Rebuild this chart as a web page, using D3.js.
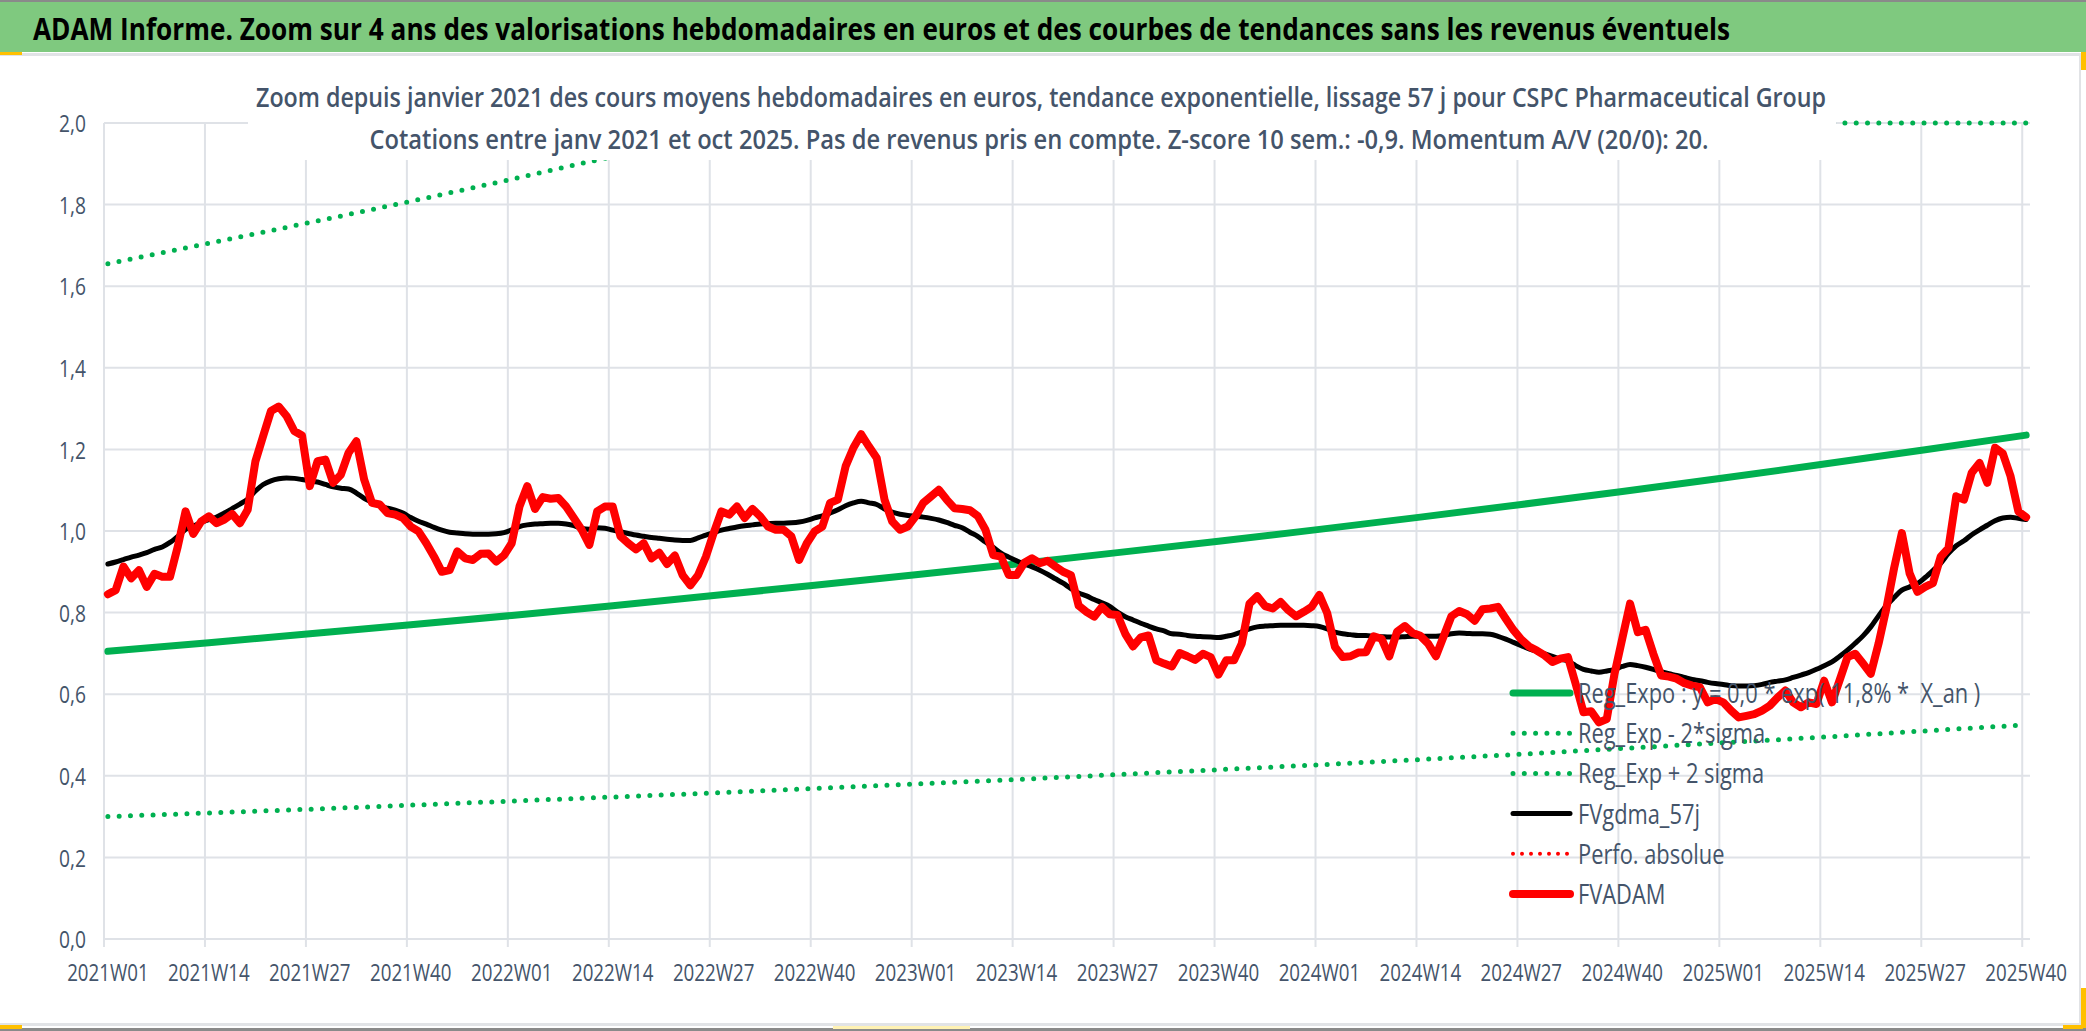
<!DOCTYPE html>
<meta charset="utf-8">
<style>
  body { margin: 0; background: #fff; }
  svg text { font-family: "Open Sans", "DejaVu Sans", sans-serif; }
</style>
<body>
<div id="chart"></div>
<script src="https://cdn.jsdelivr.net/npm/d3@7"></script>
<script>
// ---- data ----
const tickLabels = ["2021W01","2021W14","2021W27","2021W40","2022W01","2022W14","2022W27","2022W40",
  "2023W01","2023W14","2023W27","2023W40","2024W01","2024W14","2024W27","2024W40",
  "2025W01","2025W14","2025W27","2025W40"];
const yTicks = [0, 0.2, 0.4, 0.6, 0.8, 1.0, 1.2, 1.4, 1.6, 1.8, 2.0];

// weekly average price (FVADAM), 2021W01 .. 2025W40
const fvadam = [
  0.845,0.855,0.913,0.884,0.904,0.863,0.895,0.888,0.888,0.962,
  1.048,0.993,1.023,1.036,1.019,1.028,1.042,1.019,1.052,1.171,
  1.233,1.294,1.305,1.282,1.245,1.234,1.110,1.171,1.175,1.118,
  1.138,1.192,1.220,1.126,1.069,1.065,1.044,1.040,1.032,1.011,
  0.999,0.970,0.937,0.900,0.904,0.950,0.933,0.929,0.944,0.945,
  0.925,0.940,0.970,1.060,1.110,1.054,1.083,1.079,1.081,1.060,
  1.032,1.003,0.966,1.048,1.060,1.060,0.987,0.970,0.955,0.970,
  0.933,0.947,0.919,0.940,0.892,0.867,0.892,0.937,0.995,1.048,
  1.040,1.060,1.032,1.054,1.036,1.011,1.003,1.003,0.987,0.929,
  0.970,0.999,1.011,1.069,1.077,1.159,1.204,1.237,1.207,1.179,
  1.077,1.023,1.003,1.011,1.036,1.069,1.085,1.101,1.077,1.056,
  1.054,1.051,1.037,1.003,0.941,0.937,0.892,0.892,0.922,0.933,
  0.921,0.927,0.913,0.900,0.892,0.817,0.802,0.790,0.814,0.796,
  0.794,0.748,0.717,0.739,0.744,0.683,0.675,0.668,0.701,0.693,
  0.684,0.699,0.691,0.648,0.683,0.683,0.724,0.822,0.840,0.816,
  0.810,0.826,0.806,0.791,0.802,0.814,0.843,0.799,0.716,0.691,
  0.693,0.702,0.703,0.742,0.736,0.693,0.753,0.767,0.750,0.743,
  0.724,0.693,0.742,0.791,0.804,0.796,0.780,0.808,0.810,0.814,
  0.785,0.757,0.734,0.717,0.707,0.695,0.679,0.687,0.691,0.625,
  0.556,0.558,0.531,0.539,0.650,0.736,0.822,0.752,0.758,0.699,
  0.646,0.643,0.638,0.627,0.621,0.617,0.580,0.588,0.580,0.560,
  0.543,0.547,0.551,0.560,0.572,0.592,0.609,0.580,0.568,0.580,
  0.576,0.633,0.580,0.635,0.691,0.699,0.675,0.650,0.724,0.810,
  0.909,0.995,0.896,0.851,0.863,0.872,0.937,0.958,1.085,1.077,
  1.143,1.167,1.118,1.204,1.190,1.134,1.048,1.034
];

// 57 day moving average (FVgdma_57j)
const fvgdma = [
  0.919,0.924,0.930,0.936,0.941,0.947,0.955,0.961,0.972,0.987,
  1.004,1.012,1.021,1.028,1.034,1.044,1.055,1.066,1.078,1.098,
  1.114,1.123,1.128,1.130,1.129,1.126,1.123,1.120,1.114,1.108,
  1.105,1.103,1.093,1.080,1.071,1.062,1.056,1.051,1.044,1.033,
  1.024,1.017,1.009,1.002,0.997,0.995,0.993,0.992,0.992,0.992,
  0.993,0.996,1.003,1.011,1.015,1.017,1.018,1.019,1.019,1.017,
  1.013,1.006,1.004,1.008,1.007,1.002,0.998,0.994,0.990,0.987,
  0.984,0.982,0.980,0.978,0.977,0.977,0.983,0.990,0.996,1.002,
  1.006,1.010,1.013,1.015,1.017,1.018,1.019,1.019,1.020,1.022,
  1.026,1.032,1.037,1.044,1.052,1.062,1.069,1.073,1.069,1.065,
  1.054,1.046,1.041,1.038,1.036,1.034,1.031,1.027,1.021,1.014,
  1.008,0.997,0.987,0.973,0.960,0.946,0.936,0.927,0.919,0.912,
  0.904,0.894,0.883,0.872,0.859,0.848,0.841,0.832,0.824,0.815,
  0.801,0.790,0.782,0.774,0.767,0.760,0.755,0.748,0.747,0.744,
  0.742,0.741,0.740,0.739,0.742,0.746,0.753,0.760,0.765,0.767,
  0.768,0.769,0.769,0.769,0.769,0.768,0.766,0.760,0.752,0.748,
  0.746,0.744,0.744,0.742,0.741,0.740,0.740,0.741,0.742,0.742,
  0.742,0.742,0.744,0.748,0.750,0.749,0.748,0.748,0.747,0.742,
  0.735,0.727,0.719,0.711,0.705,0.699,0.693,0.686,0.681,0.670,
  0.661,0.657,0.654,0.657,0.661,0.668,0.673,0.670,0.666,0.661,
  0.655,0.650,0.646,0.641,0.636,0.633,0.629,0.626,0.624,0.621,
  0.620,0.620,0.621,0.624,0.629,0.632,0.635,0.641,0.647,0.653,
  0.661,0.670,0.679,0.693,0.708,0.725,0.743,0.765,0.792,0.817,
  0.837,0.855,0.863,0.871,0.886,0.903,0.921,0.945,0.964,0.976,
  0.991,1.003,1.014,1.025,1.032,1.034,1.031,1.028
];

// trend curves, read at each labelled week
const regExpo  = [0.705,0.726,0.748,0.770,0.793,0.817,0.842,0.867,0.893,0.919,
                  0.947,0.975,1.004,1.034,1.065,1.097,1.130,1.164,1.199,1.235];
const regMinus = [0.300,0.309,0.318,0.328,0.338,0.348,0.358,0.369,0.380,0.391,
                  0.403,0.415,0.427,0.440,0.453,0.467,0.481,0.495,0.510,0.525];
const regPlus  = [1.655,1.705,1.756,1.808,1.862,1.918,1.975,2.034,2.095,2.158,
                  2.222,2.289,2.357,2.428,2.501,2.576,2.653,2.732,2.814,2.898];

const legendNames = ["Reg_Expo : y = 0,0 * exp( 11,8% *\u00a0 X_an )", "Reg_Exp - 2*sigma",
  "Reg_Exp + 2 sigma", "FVgdma_57j", "Perfo. absolue", "FVADAM"];

// week categories 2021W01 .. 2025W40
const weeks = [];
for (let yr = 2021; yr <= 2025; yr++)
  for (let wk = 1; wk <= 52; wk++) {
    if (yr === 2025 && wk > 40) break;
    weeks.push(yr + "W" + String(wk).padStart(2, "0"));
  }

// ---- chart ----
const width = 2086, height = 1031;
const svg = d3.select("#chart").append("svg")
  .attr("width", width).attr("height", height);

svg.append("rect").attr("width", width).attr("height", height).attr("fill", "#fff");

const x = d3.scaleBand().domain(weeks).range([104, 2030]).padding(0);
const cx = d => x(d) + x.bandwidth() / 2;
const y = d3.scaleLinear().domain([0, 2]).range([939, 123]).clamp(true);

const textCol = "#44546a", gridCol = "#dfe2e7";
const green = "#00b050", red = "#ff0000";

function squeeze(sel, k) {
  sel.each(function () {
    const w = this.getComputedTextLength();
    d3.select(this).attr("textLength", w * k).attr("lengthAdjust", "spacingAndGlyphs");
  });
}

// header band
svg.append("rect").attr("x", 0).attr("y", 0).attr("width", width).attr("height", 52).attr("fill", "#7fc97f");
svg.append("rect").attr("x", 0).attr("y", 0).attr("width", width).attr("height", 2).attr("fill", "#8a8a8a");
svg.append("rect").attr("x", 0).attr("y", 53).attr("width", width).attr("height", 3).attr("fill", "#e1e3e6");
svg.append("text").attr("x", 33).attr("y", 40)
  .attr("font-size", 30).attr("font-weight", "bold").attr("fill", "#000")
  .attr("textLength", 1697).attr("lengthAdjust", "spacingAndGlyphs")
  .text("ADAM Informe. Zoom sur 4 ans des valorisations hebdomadaires en euros et des courbes de tendances sans les revenus éventuels");

// frame bits
svg.append("rect").attr("x", 2079).attr("y", 56).attr("width", 2).attr("height", 970).attr("fill", "#e1e3e6");
svg.append("rect").attr("x", 0).attr("y", 1023).attr("width", width).attr("height", 3).attr("fill", "#e1e3e6");
svg.append("rect").attr("x", 0).attr("y", 1028).attr("width", width).attr("height", 3).attr("fill", "#8a8a8a");
svg.append("rect").attr("x", 0).attr("y", 52).attr("width", 22).attr("height", 3).attr("fill", "#ffc000");
svg.append("rect").attr("x", 2081).attr("y", 52).attr("width", 5).attr("height", 18).attr("fill", "#ffc000");
svg.append("rect").attr("x", 0).attr("y", 1025).attr("width", 22).attr("height", 4).attr("fill", "#ffc000");
svg.append("rect").attr("x", 833).attr("y", 1026).attr("width", 137).attr("height", 3).attr("fill", "#fff2b3");
svg.append("rect").attr("x", 2081).attr("y", 988).attr("width", 5).attr("height", 40).attr("fill", "#ffc000");
svg.append("rect").attr("x", 2063).attr("y", 1025).attr("width", 20).attr("height", 4).attr("fill", "#ffc000");

// grid
const plot = svg.append("g");
plot.selectAll(".hgrid").data(yTicks).join("line")
  .attr("x1", 104).attr("x2", 2030)
  .attr("y1", d => y(d)).attr("y2", d => y(d))
  .attr("stroke", gridCol).attr("stroke-width", 2);
plot.selectAll(".vgrid").data(tickLabels).join("line")
  .attr("x1", d => x(d)).attr("x2", d => x(d))
  .attr("y1", y(2)).attr("y2", y(0) + 8)
  .attr("stroke", gridCol).attr("stroke-width", 2);

// axes
const yAxis = svg.append("g").attr("transform", "translate(86,0)")
  .call(d3.axisLeft(y).tickValues(yTicks).tickSize(0).tickPadding(0)
    .tickFormat(d => d3.format(".1f")(d).replace(".", ",")));
yAxis.select(".domain").remove();
yAxis.selectAll("text").attr("font-size", 24).attr("fill", textCol)
  .attr("font-family", "Open Sans").attr("dy", "0.36em").call(squeeze, 0.8);

const xAxis = svg.append("g").attr("transform", "translate(0,963)")
  .call(d3.axisBottom(x).tickValues(tickLabels).tickSize(0).tickPadding(0));
xAxis.select(".domain").remove();
xAxis.selectAll("text").attr("font-size", 24).attr("fill", textCol)
  .attr("font-family", "Open Sans").attr("dy", "0.75em").call(squeeze, 0.78);

// series
const trendLine = d3.line().x((d, i) => cx(tickLabels[i])).y(d => y(d));
const weekLine = d3.line().x((d, i) => cx(weeks[i])).y(d => y(d));

plot.append("path").attr("d", trendLine(regMinus)).attr("fill", "none")
  .attr("stroke", green).attr("stroke-width", 5).attr("stroke-linecap", "round")
  .attr("stroke-dasharray", "0 11.3");
plot.append("path").attr("d", trendLine(regPlus)).attr("fill", "none")
  .attr("stroke", green).attr("stroke-width", 5).attr("stroke-linecap", "round")
  .attr("stroke-dasharray", "0 11.3");
plot.append("path").attr("d", trendLine(regExpo)).attr("fill", "none")
  .attr("stroke", green).attr("stroke-width", 7).attr("stroke-linecap", "round");
plot.append("path").attr("d", weekLine.curve(d3.curveMonotoneX)(fvgdma)).attr("fill", "none")
  .attr("stroke", "#000").attr("stroke-width", 5).attr("stroke-linejoin", "round").attr("stroke-linecap", "round");
plot.append("path").attr("d", weekLine.curve(d3.curveLinear)(fvadam)).attr("fill", "none")
  .attr("stroke", red).attr("stroke-width", 8).attr("stroke-linejoin", "round").attr("stroke-linecap", "round");

// chart title box (sits over the plot)
svg.append("rect").attr("x", 248).attr("y", 64).attr("width", 1588).attr("height", 96).attr("fill", "#fff");
svg.append("text").attr("x", 1041).attr("y", 107).attr("text-anchor", "middle")
  .attr("font-size", 27).attr("font-weight", 600).attr("fill", textCol)
  .attr("textLength", 1570).attr("lengthAdjust", "spacingAndGlyphs")
  .text("Zoom depuis janvier 2021 des cours moyens hebdomadaires en euros, tendance exponentielle, lissage 57 j pour CSPC Pharmaceutical Group");
svg.append("text").attr("x", 1039).attr("y", 149).attr("text-anchor", "middle")
  .attr("font-size", 27).attr("font-weight", 600).attr("fill", textCol)
  .attr("textLength", 1339).attr("lengthAdjust", "spacingAndGlyphs")
  .text("Cotations entre janv 2021 et oct 2025. Pas de revenus pris en compte. Z-score 10 sem.: -0,9. Momentum A/V (20/0): 20.");

// legend
const legendStyle = [
  { stroke: green, w: 7, dash: null },
  { stroke: green, w: 5, dash: "0 11.3" },
  { stroke: green, w: 5, dash: "0 11.3" },
  { stroke: "#000", w: 5, dash: null },
  { stroke: red, w: 4, dash: "0 9" },
  { stroke: red, w: 8, dash: null }
];
const legend = svg.append("g");
const item = legend.selectAll("g").data(legendNames).join("g")
  .attr("transform", (d, i) => `translate(0,${693 + i * 40.2})`);
item.append("line").attr("x1", 1513).attr("x2", 1570)
  .attr("stroke", (d, i) => legendStyle[i].stroke)
  .attr("stroke-width", (d, i) => legendStyle[i].w)
  .attr("stroke-linecap", "round")
  .attr("stroke-dasharray", (d, i) => legendStyle[i].dash);
item.append("text").attr("x", 1578).attr("dy", "0.36em")
  .attr("font-size", 28).attr("fill", textCol)
  .text(d => d).call(squeeze, 0.78);
</script>
</body>
</html>
